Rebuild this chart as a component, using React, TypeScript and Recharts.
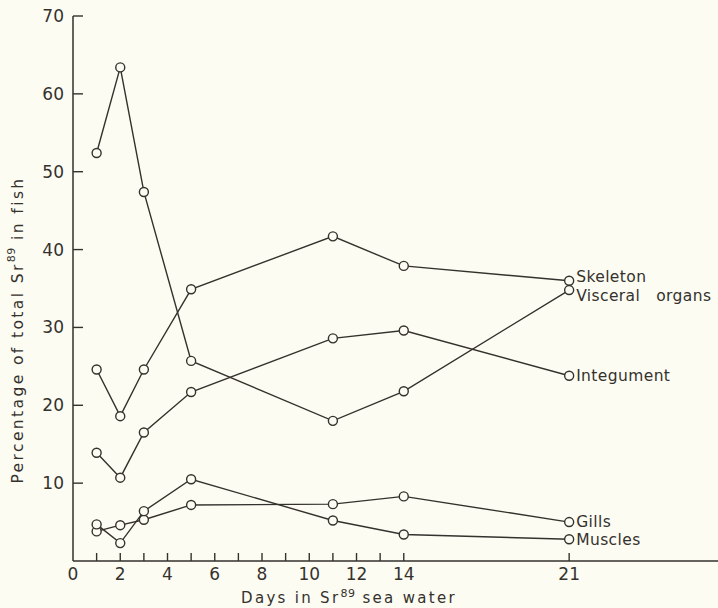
import React from 'react';
import { LineChart, Line, XAxis, YAxis } from 'recharts';

// days of exposure (x)
const days = [1, 2, 3, 5, 11, 14, 21];

// percentage of total Sr89 in fish, per organ
const skeleton = [24.6, 18.6, 24.6, 34.9, 41.7, 37.9, 36.0];
const visceral = [52.4, 63.4, 47.4, 25.7, 18.0, 21.8, 34.8];
const integument = [13.9, 10.7, 16.5, 21.7, 28.6, 29.6, 23.8];
const gills = [3.8, 4.6, 5.3, 7.2, 7.3, 8.3, 5.0];
const muscles = [4.7, 2.3, 6.4, 10.5, 5.2, 3.4, 2.8];

const xTicks = [0, 1, 2, 3, 4, 5, 6, 7, 8, 9, 10, 11, 12, 13, 14, 21];
const xTickLabels = [0, 2, 4, 6, 8, 10, 12, 14, 21];
const yTicks = [10, 20, 30, 40, 50, 60, 70];

const series = [
  { key: 'skeleton', name: 'Skeleton', values: skeleton, dy: -4 },
  { key: 'visceral', name: 'Visceral   organs', values: visceral, dy: 6 },
  { key: 'integument', name: 'Integument', values: integument, dy: 0 },
  { key: 'gills', name: 'Gills', values: gills, dy: 0 },
  { key: 'muscles', name: 'Muscles', values: muscles, dy: 1 },
];

const data = days.map((day, i) => {
  const row: { [key: string]: number } = { day };
  series.forEach((s) => {
    row[s.key] = s.values[i];
  });
  return row;
});

const INK = '#35312d';
const BG = '#fcfcf3';
const FONT = '"DejaVu Sans", sans-serif';

const XTick = (props: any) => {
  const { x, y, payload } = props;
  const v = payload.value;
  return (
    <g>
      {v !== 0 && <line x1={x} y1={y} x2={x} y2={y - 8} stroke={INK} strokeWidth={1.4} />}
      {xTickLabels.includes(v) && (
        <text x={x} y={y + 19} textAnchor="middle" fill={INK} fontSize={17} fontFamily={FONT}>
          {v}
        </text>
      )}
    </g>
  );
};

const YTick = (props: any) => {
  const { x, y, payload } = props;
  return (
    <g>
      <line x1={x} y1={y} x2={x + 10} y2={y} stroke={INK} strokeWidth={1.4} />
      <text x={x - 9} y={y + 6} textAnchor="end" fill={INK} fontSize={17} fontFamily={FONT}>
        {payload.value}
      </text>
    </g>
  );
};

const endLabel = (name: string, dy: number) => (props: any) => {
  const { index } = props;
  if (index !== days.length - 1) return null;
  const x = props.viewBox?.x ?? props.x;
  const y = props.viewBox?.y ?? props.y;
  return (
    <text
      x={x + 7}
      y={y + dy + 5}
      fill={INK}
      fontSize={15.5}
      fontFamily={FONT}
      letterSpacing={0.4}
      style={{ whiteSpace: 'pre' }}
    >
      {name}
    </text>
  );
};

const XTitle = (props: any) => {
  const { viewBox } = props;
  return (
    <text
      x={viewBox.x + 276}
      y={viewBox.y + 42}
      textAnchor="middle"
      fill={INK}
      fontSize={15}
      fontFamily={FONT}
      letterSpacing={2.3}
    >
      Days in Sr
      <tspan dy={-6} fontSize={11} letterSpacing={0.5}>89</tspan>
      <tspan dy={6}> sea water</tspan>
    </text>
  );
};

const YTitle = () => {
  const cx = 18;
  const cy = 330;
  return (
    <text
      x={cx}
      y={cy}
      transform={`rotate(-90 ${cx} ${cy})`}
      textAnchor="middle"
      fill={INK}
      fontSize={15.5}
      fontFamily={FONT}
      letterSpacing={2.4}
      dominantBaseline="middle"
    >
      Percentage of total Sr
      <tspan dy={-6} fontSize={11} letterSpacing={0.5}>89</tspan>
      <tspan dy={6}> in fish</tspan>
    </text>
  );
};

export default function App() {
  return (
    <div style={{ position: 'absolute', left: 0, top: 0, width: 718, height: 608, background: BG }}>
      <LineChart
        width={718}
        height={608}
        data={data}
        margin={{ top: 16, right: 0, bottom: 0, left: 0 }}
      >
        <XAxis
          dataKey="day"
          type="number"
          domain={[0, 27.3]}
          ticks={xTicks}
          interval={0}
          allowDataOverflow
          height={47}
          tickSize={0}
          tickMargin={0}
          tickLine={false}
          tick={<XTick />}
          axisLine={{ stroke: INK, strokeWidth: 1.5 }}
          label={{ content: <XTitle /> }}
        />
        <YAxis
          type="number"
          domain={[0, 70]}
          ticks={yTicks}
          interval={0}
          width={73}
          tickSize={0}
          tickMargin={0}
          tickLine={false}
          tick={<YTick />}
          axisLine={{ stroke: INK, strokeWidth: 1.5 }}
          label={{ content: <YTitle /> }}
        />
        {series.map((s) => (
          <Line
            key={s.key}
            dataKey={s.key}
            name={s.name}
            type="linear"
            stroke={INK}
            strokeWidth={1.4}
            dot={{ r: 4.5, fill: BG, stroke: INK, strokeWidth: 1.4 }}
            activeDot={false}
            isAnimationActive={false}
            label={endLabel(s.name, s.dy)}
          />
        ))}
      </LineChart>
    </div>
  );
}
